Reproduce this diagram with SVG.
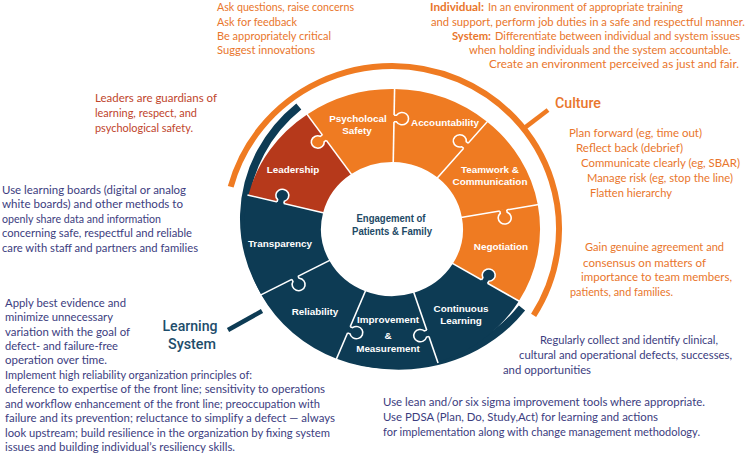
<svg xmlns="http://www.w3.org/2000/svg" width="750" height="456" viewBox="0 0 750 456">
<style>
.t{font-family:Lato,"Liberation Sans",sans-serif;font-size:12px}
.s{font-size:11.2px}
.or{fill:#E9762C}
.rd{fill:#C0452C}
.nv{fill:#3C3D80}
.b{font-weight:bold}
.lbl{font-family:"Liberation Sans",Arial,sans-serif;font-size:9.9px;font-weight:bold;fill:#fff;text-anchor:middle}
.seam{stroke:#fff;stroke-width:1.6;fill:none}
.ko{stroke:#fff;stroke-width:1.6;fill:none}
.po{fill:#EF7B22}
.pr{fill:#B6391B}
.pd{fill:#0D3B54}
.head{font-family:Roboto,"Liberation Sans",Arial,sans-serif;font-size:15px;font-weight:500}
</style>
<defs>
<g id="knob">
<path d="M-3.5,-1.5 L-3.5,2.52 A6.5,6.5 0 1 0 3.5,2.52 L3.5,-1.5 Z" stroke="none"/>
<path class="ko" d="M-3.5,0 L-3.5,2.52 A6.5,6.5 0 1 0 3.5,2.52 L3.5,0"/>
</g>
</defs>
<rect width="750" height="456" fill="#fff"/>

<g id="arcs">
<path d="M230.7,186.8 A167,163 0 1 1 533.6,315.4" fill="none" stroke="#EF7B22" stroke-width="6"/>
<path d="M522.0,308.1 A155,147 0 1 1 298.8,106.5" fill="none" stroke="#0D3B54" stroke-width="8"/>
<line x1="523.6" y1="128.6" x2="548" y2="110" stroke="#EF7B22" stroke-width="4.5"/>
<line x1="262" y1="311" x2="228" y2="330" stroke="#0D3B54" stroke-width="4.5"/>
</g>

<g id="leadership"><path class="pr" d="M248.4,195.2 A148,139.86 0 0 1 307.1,114.5 L351.3,174.0 A71,67.1 0 0 0 323.1,212.7 Z"/><text class="lbl" x="293" y="173">Leadership</text></g>
<g id="psychological-safety"><path class="po" d="M307.1,114.5 A148,139.86 0 0 1 394.6,89.1 L393.2,161.9 A71,67.1 0 0 0 351.3,174.0 Z"/></g>
<g id="accountability"><path class="po" d="M394.6,89.1 A148,139.86 0 0 1 487.1,121.8 L437.6,177.6 A71,67.1 0 0 0 393.2,161.9 Z"/></g>
<g id="teamwork"><path class="po" d="M487.1,121.8 A148,139.86 0 0 1 537.8,204.7 L461.9,217.4 A71,67.1 0 0 0 437.6,177.6 Z"/></g>
<g id="negotiation"><path class="po" d="M537.8,204.7 A148,139.86 0 0 1 518.9,301.0 L452.9,263.6 A71,67.1 0 0 0 461.9,217.4 Z"/></g>
<g id="continuous-learning"><path class="pd" d="M518.9,301.0 A148,139.86 0 0 1 437.7,362.1 L413.9,292.8 A71,67.1 0 0 0 452.9,263.6 Z"/></g>
<g id="improvement"><path class="pd" d="M437.7,362.1 A148,139.86 0 0 1 336.6,358.7 L365.4,291.2 A71,67.1 0 0 0 413.9,292.8 Z"/></g>
<g id="reliability"><path class="pd" d="M336.6,358.7 A148,139.86 0 0 1 261.3,294.7 L329.3,260.5 A71,67.1 0 0 0 365.4,291.2 Z"/></g>
<g id="transparency"><path class="pd" d="M261.3,294.7 A148,139.86 0 0 1 248.4,195.2 L323.1,212.7 A71,67.1 0 0 0 329.3,260.5 Z"/></g>

<g id="seams" transform="translate(392,229) scale(1,0.945)">
<g transform="rotate(235) scale(1,-1)"><line class="seam" x1="70" x2="149"/><use href="#knob" transform="translate(118,0)" fill="#EF7B22"/></g>
<g transform="rotate(271)"><line class="seam" x1="70" x2="149"/><use href="#knob" transform="translate(117,0)" fill="#EF7B22"/></g>
<g transform="rotate(310) scale(1,-1)"><line class="seam" x1="70" x2="149"/><use href="#knob" transform="translate(115,0)" fill="#EF7B22"/></g>
<g transform="rotate(350)"><line class="seam" x1="70" x2="149"/><use href="#knob" transform="translate(113,0)" fill="#EF7B22"/></g>
<g transform="rotate(31) scale(1,-1)"><line class="seam" x1="70" x2="149"/><use href="#knob" transform="translate(108,0)" fill="#0D3B54"/></g>
<g transform="rotate(72)"><line class="seam" x1="70" x2="149"/><use href="#knob" transform="translate(116,0)" fill="#0D3B54"/></g>
<g transform="rotate(112) scale(1,-1)"><line class="seam" x1="70" x2="149"/><use href="#knob" transform="translate(115,0)" fill="#0D3B54"/></g>
<g transform="rotate(152) scale(1,-1)"><line class="seam" x1="70" x2="149"/><use href="#knob" transform="translate(110,0)" fill="#0D3B54"/></g>
<g transform="rotate(194)"><line class="seam" x1="70" x2="149"/><use href="#knob" transform="translate(115,0)" fill="#0D3B54"/></g>
</g>

<g id="piece-labels">
<text class="lbl" x="358" y="122">Psycholocal</text>
<text class="lbl" x="357" y="133.5">Safety</text>
<text class="lbl" x="445" y="125.5" textLength="68" lengthAdjust="spacingAndGlyphs">Accountability</text>
<text class="lbl" x="490" y="173">Teamwork &amp;</text>
<text class="lbl" x="490" y="184.5" textLength="75" lengthAdjust="spacingAndGlyphs">Communication</text>
<text class="lbl" x="501" y="249.5">Negotiation</text>
<text class="lbl" x="461" y="312">Continuous</text>
<text class="lbl" x="461" y="324">Learning</text>
<text class="lbl" x="388" y="323">Improvement</text>
<text class="lbl" x="388" y="338.5">&amp;</text>
<text class="lbl" x="388" y="351.5">Measurement</text>
<text class="lbl" x="315" y="314.5">Reliability</text>
<text class="lbl" x="280" y="247">Transparency</text>
</g>

<g id="center">
<text x="391" y="222" font-family="Liberation Sans, Arial, sans-serif" font-size="10.8" font-weight="bold" fill="#1E4A66" text-anchor="middle" textLength="69" lengthAdjust="spacingAndGlyphs">Engagement of</text>
<text x="392" y="235" font-family="Liberation Sans, Arial, sans-serif" font-size="10.8" font-weight="bold" fill="#1E4A66" text-anchor="middle" textLength="80" lengthAdjust="spacingAndGlyphs">Patients &amp; Family</text>
</g>

<g id="culture-label">
<text class="head" x="555" y="108" fill="#E9762C" textLength="46" lengthAdjust="spacingAndGlyphs">Culture</text>
</g>
<g id="learning-system-label">
<text class="head" x="190" y="331" fill="#1E4D6B" text-anchor="middle" font-size="16" textLength="55" lengthAdjust="spacingAndGlyphs">Learning</text>
<text class="head" x="192" y="349" fill="#1E4D6B" text-anchor="middle" font-size="16" textLength="48" lengthAdjust="spacingAndGlyphs">System</text>
</g>

<g id="text-psych" class="t or">
<text x="217" y="11" textLength="137" lengthAdjust="spacingAndGlyphs">Ask questions, raise concerns</text>
<text x="217" y="25.5" textLength="80" lengthAdjust="spacingAndGlyphs">Ask for feedback</text>
<text x="217" y="40" textLength="114" lengthAdjust="spacingAndGlyphs">Be appropriately critical</text>
<text x="217" y="54" textLength="98" lengthAdjust="spacingAndGlyphs">Suggest innovations</text>
</g>

<g id="text-accountability" class="t s or">
<text class="b" x="430" y="11" textLength="54" lengthAdjust="spacingAndGlyphs">Individual:</text>
<text x="488" y="11" textLength="195" lengthAdjust="spacingAndGlyphs">In an environment of appropriate training</text>
<text x="431" y="25.5" textLength="314" lengthAdjust="spacingAndGlyphs">and support, perform job duties in a safe and respectful manner.</text>
<text class="b" x="452" y="40" textLength="39" lengthAdjust="spacingAndGlyphs">System:</text>
<text x="495" y="40" textLength="245" lengthAdjust="spacingAndGlyphs">Differentiate between individual and system issues</text>
<text x="469" y="54" textLength="262" lengthAdjust="spacingAndGlyphs">when holding individuals and the system accountable.</text>
<text x="489" y="68" textLength="250" lengthAdjust="spacingAndGlyphs">Create an environment perceived as just and fair.</text>
</g>

<g id="text-teamwork" class="t or">
<text x="569" y="137" textLength="133" lengthAdjust="spacingAndGlyphs">Plan forward (eg, time out)</text>
<text x="576" y="152" textLength="107" lengthAdjust="spacingAndGlyphs">Reflect back (debrief)</text>
<text x="581" y="167" textLength="159" lengthAdjust="spacingAndGlyphs">Communicate clearly (eg, SBAR)</text>
<text x="587" y="182" textLength="146" lengthAdjust="spacingAndGlyphs">Manage risk (eg, stop the line)</text>
<text x="590" y="197" textLength="82" lengthAdjust="spacingAndGlyphs">Flatten hierarchy</text>
</g>

<g id="text-negotiation" class="t or">
<text x="585" y="251" textLength="139" lengthAdjust="spacingAndGlyphs">Gain genuine agreement and</text>
<text x="583" y="266.5" textLength="123" lengthAdjust="spacingAndGlyphs">consensus on matters of</text>
<text x="581" y="281" textLength="151" lengthAdjust="spacingAndGlyphs">importance to team members,</text>
<text x="570" y="296" textLength="103" lengthAdjust="spacingAndGlyphs">patients, and families.</text>
</g>

<g id="text-leadership" class="t rd">
<text x="95" y="102" textLength="122" lengthAdjust="spacingAndGlyphs">Leaders are guardians of</text>
<text x="95" y="117" textLength="102" lengthAdjust="spacingAndGlyphs">learning, respect, and</text>
<text x="95" y="132" textLength="98" lengthAdjust="spacingAndGlyphs">psychological safety.</text>
</g>

<g id="text-transparency" class="t nv">
<text x="2" y="194" textLength="184" lengthAdjust="spacingAndGlyphs">Use learning boards (digital or analog</text>
<text x="2" y="208" textLength="181" lengthAdjust="spacingAndGlyphs">white boards) and other methods to</text>
<text x="2" y="222.5" textLength="159" lengthAdjust="spacingAndGlyphs">openly share data and information</text>
<text x="2" y="237" textLength="190" lengthAdjust="spacingAndGlyphs">concerning safe, respectful and reliable</text>
<text x="2" y="251.5" textLength="196" lengthAdjust="spacingAndGlyphs">care with staff and partners and families</text>
</g>

<g id="text-reliability" class="t nv">
<text x="5" y="307" textLength="121" lengthAdjust="spacingAndGlyphs">Apply best evidence and</text>
<text x="5" y="321" textLength="108" lengthAdjust="spacingAndGlyphs">minimize unnecessary</text>
<text x="5" y="335.5" textLength="125" lengthAdjust="spacingAndGlyphs">variation with the goal of</text>
<text x="5" y="350" textLength="113" lengthAdjust="spacingAndGlyphs">defect- and failure-free</text>
<text x="5" y="364" textLength="102" lengthAdjust="spacingAndGlyphs">operation over time.</text>
<text x="5" y="378.5" textLength="247" lengthAdjust="spacingAndGlyphs">Implement high reliability organization principles of:</text>
<text x="5" y="393" textLength="320" lengthAdjust="spacingAndGlyphs">deference to expertise of the front line; sensitivity to operations</text>
<text x="5" y="407.5" textLength="315" lengthAdjust="spacingAndGlyphs">and workflow enhancement of the front line; preoccupation with</text>
<text x="5" y="422" textLength="330" lengthAdjust="spacingAndGlyphs">failure and its prevention; reluctance to simplify  a defect — always</text>
<text x="5" y="436.5" textLength="325" lengthAdjust="spacingAndGlyphs">look upstream; build resilience in the organization by fixing system</text>
<text x="5" y="451" textLength="230" lengthAdjust="spacingAndGlyphs">issues and building individual’s resiliency skills.</text>
</g>

<g id="text-continuous" class="t nv">
<text x="540" y="344" textLength="178" lengthAdjust="spacingAndGlyphs">Regularly collect and identify clinical,</text>
<text x="519" y="359" textLength="213" lengthAdjust="spacingAndGlyphs">cultural and operational defects, successes,</text>
<text x="503" y="374" textLength="88" lengthAdjust="spacingAndGlyphs">and opportunities</text>
</g>

<g id="text-improvement" class="t nv">
<text x="383" y="406" textLength="322" lengthAdjust="spacingAndGlyphs">Use lean and/or six sigma improvement tools where appropriate.</text>
<text x="383" y="421" textLength="275" lengthAdjust="spacingAndGlyphs">Use PDSA (Plan, Do, Study,Act) for learning and actions</text>
<text x="383" y="436" textLength="317" lengthAdjust="spacingAndGlyphs">for implementation along with change management methodology.</text>
</g>
</svg>
